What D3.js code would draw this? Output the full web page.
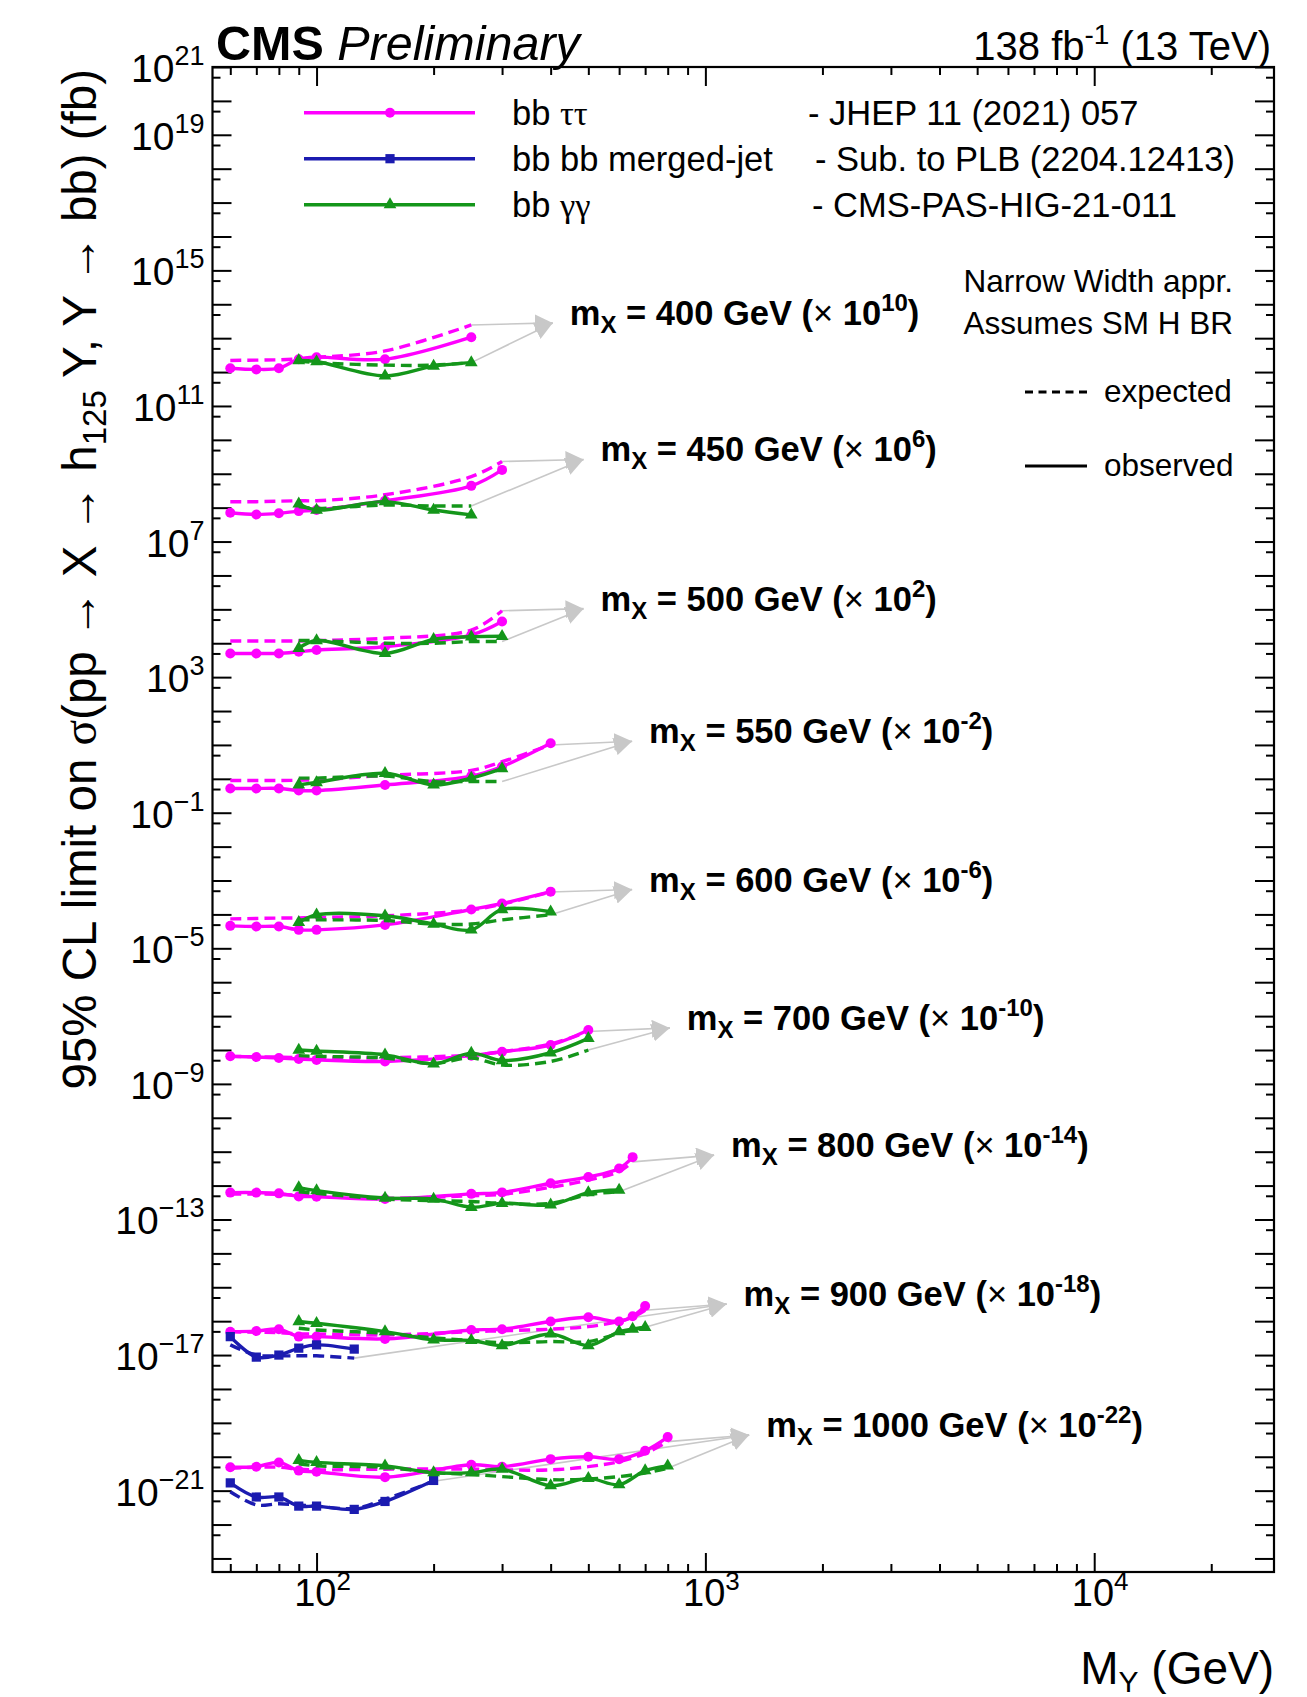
<!DOCTYPE html>
<html>
<head>
<meta charset="utf-8">
<script src="https://cdn.jsdelivr.net/npm/d3@7"></script>
<style>
  body { margin: 0; background: #ffffff; }
  svg { display: block; }
  text { font-family: "Liberation Sans", Arial, Helvetica, sans-serif; }
</style>
</head>
<body>
<svg id="chart" width="1307" height="1697"></svg>
<script>
// ---------------- DATA ----------------
// Resonance masses m_X and the factor 10^k applied to each group of curves
const masses = [400, 450, 500, 550, 600, 700, 800, 900, 1000];
const massExponents = [10, 6, 2, -2, -6, -10, -14, -18, -22];

// bb tautau (JHEP 11 (2021) 057): M_Y points, observed and expected limits (fb, unscaled)
const ttMY = [
  [60, 70, 80, 90, 100, 150, 250],
  [60, 70, 80, 90, 100, 150, 250, 300],
  [60, 70, 80, 90, 100, 150, 250, 300],
  [60, 70, 80, 90, 100, 150, 250, 300, 400],
  [60, 70, 80, 90, 100, 150, 250, 300, 400],
  [60, 70, 80, 90, 100, 150, 250, 300, 400, 500],
  [60, 70, 80, 90, 100, 150, 250, 300, 400, 500, 600, 650],
  [60, 70, 80, 90, 100, 150, 250, 300, 400, 500, 600, 650, 700],
  [60, 70, 80, 90, 100, 150, 250, 300, 400, 500, 600, 700, 800]
];
const ttObs = [
  [130, 120, 130, 240, 275, 240, 1070],
  [71, 63, 68, 79, 85, 160, 440, 1300],
  [50, 50, 50, 56, 63, 79, 176, 440],
  [52, 52, 52, 45, 45, 66, 120, 230, 1120],
  [46, 44, 44, 35, 35, 49, 140, 210, 470],
  [65, 62, 58, 54, 51, 46, 68, 89, 140, 390],
  [62, 62, 59, 48, 47, 40, 57, 63, 117, 180, 320, 690],
  [49, 51, 58, 35, 35, 30, 55, 58, 98, 130, 98, 140, 280],
  [49, 51, 68, 39, 36, 25, 58, 51, 85, 100, 85, 150, 380]
];
const ttExp = [
  [220, 225, 230, 245, 270, 420, 2450],
  [150, 150, 155, 160, 160, 240, 820, 2300],
  [117, 117, 117, 117, 120, 140, 245, 910],
  [89, 89, 89, 91, 93, 126, 178, 320, 1000],
  [74, 76, 78, 79, 81, 91, 135, 200, 460],
  [65, 63, 62, 60, 59, 59, 71, 89, 150, 350],
  [56, 56, 55, 52, 50, 42, 50, 55, 89, 145, 260, 500],
  [49, 47, 46, 42, 42, 39, 49, 52, 58, 69, 98, 130, 210],
  [46, 49, 49, 43, 41, 43, 43, 41, 41, 51, 72, 126, 280]
];

// bb bb merged-jet (2204.12413)
const bbMY = [[], [], [], [], [], [], [],
  [60, 70, 80, 90, 100, 125],
  [60, 70, 80, 90, 100, 125, 150, 200]
];
const bbObs = [[], [], [], [], [], [], [],
  [35, 8.7, 10, 16, 20, 15],
  [17, 6.5, 6.5, 3.5, 3.5, 2.8, 4.8, 20]
];
const bbExp = [[], [], [], [], [], [], [],
  [20, 10, 9.5, 9.5, 9.5, 8.1],
  [9.3, 3.8, 4.1, 3.8, 3.5, 3.0, 5.6, 19]
];

// bb gammagamma (CMS-PAS-HIG-21-011)
const ggMY = [
  [90, 100, 150, 200, 250],
  [90, 100, 150, 200, 250],
  [90, 100, 150, 200, 250, 300],
  [90, 100, 150, 200, 250, 300],
  [90, 100, 150, 200, 250, 300, 400],
  [90, 100, 150, 200, 250, 300, 400, 500],
  [90, 100, 150, 200, 250, 300, 400, 500, 600],
  [90, 100, 150, 200, 250, 300, 400, 500, 600, 650, 700],
  [90, 100, 150, 200, 250, 300, 400, 500, 600, 700, 800]
];
const ggObs = [
  [220, 205, 77, 150, 190],
  [130, 85, 150, 85, 61],
  [71, 120, 50, 130, 155, 160],
  [66, 78, 146, 66, 105, 200],
  [58, 97, 91, 52, 35, 140, 120],
  [100, 93, 72, 39, 81, 49, 83, 220],
  [87, 71, 43, 40, 23, 30, 27, 62, 74],
  [98, 87, 49, 28, 27, 19, 42, 19, 49, 58, 66],
  [78, 68, 54, 34, 34, 43, 14, 23, 15, 39, 54]
];
const ggExp = [
  [215, 190, 160, 160, 190],
  [107, 95, 120, 112, 112],
  [120, 120, 100, 100, 112, 112],
  [105, 105, 120, 83, 83, 83],
  [69, 69, 66, 52, 52, 69, 97],
  [68, 65, 58, 40, 58, 36, 46, 100],
  [66, 59, 40, 36, 34, 30, 30, 54, 66],
  [62, 55, 44, 32, 27, 23, 25, 25, 44, 55, 66],
  [62, 54, 49, 34, 30, 26, 21, 22, 26, 33, 46]
];

// Axis tick labels (exponents of 10)
const yLabelExponents = [21, 19, 15, 11, 7, 3, -1, -5, -9, -13, -17, -21];
const xLabelExponents = [2, 3, 4];
const xMinorTicks = [60, 70, 80, 90, 200, 300, 400, 500, 600, 700, 800, 900,
                     2000, 3000, 4000, 5000, 6000, 7000, 8000, 9000, 20000];

// Legend texts
const legendNames = [["bb ", "ττ"], ["bb bb merged-jet", ""], ["bb ", "γγ"]];
const legendRefs = ["- JHEP 11 (2021) 057", "- Sub. to PLB (2204.12413)", "- CMS-PAS-HIG-21-011"];

// ---------------- LAYOUT ----------------
const W = 1307, H = 1697;
const F = { left: 212.5, right: 1274, top: 67, bottom: 1572 };
const C = { tt: "#ff00ff", bb: "#1b1bb0", gg: "#14961a", arrow: "#c8c8c8" };
const SERIF = "'Liberation Serif', 'DejaVu Serif', serif";

const svg = d3.select("#chart");
svg.append("rect").attr("width", W).attr("height", H).attr("fill", "#fff");

const x = d3.scaleLog().domain([54, 29000]).range([F.left, F.right]);
const y = d3.scaleLog().domain([Math.pow(10, -23.4), 1e21]).range([F.bottom, F.top]);

svg.append("defs").append("clipPath").attr("id", "clip")
  .append("rect").attr("x", F.left).attr("y", F.top)
  .attr("width", F.right - F.left).attr("height", F.bottom - F.top);

svg.select("defs").append("marker")
  .attr("id", "ahead").attr("viewBox", "0 0 18 18")
  .attr("refX", 18).attr("refY", 9)
  .attr("markerWidth", 18).attr("markerHeight", 18)
  .attr("markerUnits", "userSpaceOnUse")
  .attr("orient", "auto")
  .append("path").attr("d", "M0,0 L18,9 L0,18 Z").attr("fill", C.arrow);

// ---------------- AXES (ticks via d3 axes) ----------------
const yDecades = d3.range(-23, 22).map(k => Math.pow(10, k));
const yMinor = d3.range(-22, 22).map(k => 5 * Math.pow(10, k - 1));
const xMajor = xLabelExponents.map(k => Math.pow(10, k));

function tickAxis(axisFn, scale, values, size, transform) {
  const g = svg.append("g").attr("transform", transform)
    .call(axisFn(scale).tickValues(values).tickSize(size).tickFormat(""));
  g.select(".domain").remove();
  g.selectAll(".tick line").attr("stroke", "#000").attr("stroke-width", 2);
  return g;
}
tickAxis(d3.axisLeft, y, yDecades, -19, `translate(${F.left},0)`);
tickAxis(d3.axisLeft, y, yMinor, -8, `translate(${F.left},0)`);
tickAxis(d3.axisRight, y, yDecades, -19, `translate(${F.right},0)`);
tickAxis(d3.axisRight, y, yMinor, -8, `translate(${F.right},0)`);
tickAxis(d3.axisBottom, x, xMajor, -19, `translate(0,${F.bottom})`);
tickAxis(d3.axisBottom, x, xMinorTicks, -8, `translate(0,${F.bottom})`);
tickAxis(d3.axisTop, x, xMajor, -19, `translate(0,${F.top})`);
tickAxis(d3.axisTop, x, xMinorTicks, -8, `translate(0,${F.top})`);

// y tick labels 10^k
yLabelExponents.forEach(k => {
  const t = svg.append("text").attr("x", F.left - 8).attr("y", y(Math.pow(10, k)) + 15)
    .attr("text-anchor", "end").attr("font-size", 39);
  t.append("tspan").text("10");
  t.append("tspan").attr("font-size", 27).attr("dy", -17).text(k < 0 ? "\u2212" + (-k) : String(k));
});
// x tick labels
xLabelExponents.forEach(k => {
  const t = svg.append("text").attr("x", x(Math.pow(10, k)) + 6).attr("y", 1606)
    .attr("text-anchor", "middle").attr("font-size", 38);
  t.append("tspan").text("10");
  t.append("tspan").attr("font-size", 26).attr("dy", -16).text(String(k));
});

// frame
svg.append("rect").attr("x", F.left).attr("y", F.top)
  .attr("width", F.right - F.left).attr("height", F.bottom - F.top)
  .attr("fill", "none").attr("stroke", "#000").attr("stroke-width", 2.2);

// axis titles
{
  const t = svg.append("text").attr("text-anchor", "end").attr("font-size", 47.5)
    .attr("transform", "translate(96,69) rotate(-90)");
  t.append("tspan").text("95% CL limit on ");
  t.append("tspan").attr("font-family", SERIF).text("σ");
  t.append("tspan").text("(pp → X → h");
  t.append("tspan").attr("font-size", 33).attr("dy", 10).text("125");
  t.append("tspan").attr("dy", -10).text(" Y, Y → bb) (fb)");
}
{
  const t = svg.append("text").attr("x", F.right).attr("y", 1684)
    .attr("text-anchor", "end").attr("font-size", 46);
  t.append("tspan").text("M");
  t.append("tspan").attr("font-size", 30).attr("dy", 8).text("Y");
  t.append("tspan").attr("dy", -8).text(" (GeV)");
}

// header
{
  const t = svg.append("text").attr("x", 216).attr("y", 60).attr("font-size", 48.5);
  t.append("tspan").attr("font-weight", "bold").text("CMS");
  t.append("tspan").attr("font-style", "italic").text(" Preliminary");
  const r = svg.append("text").attr("x", 1271).attr("y", 60)
    .attr("text-anchor", "end").attr("font-size", 40);
  r.append("tspan").text("138 fb");
  r.append("tspan").attr("font-size", 28).attr("dy", -16).text("-1");
  r.append("tspan").attr("dy", 16).text(" (13 TeV)");
}

// ---------------- CURVES ----------------
const plot = svg.append("g").attr("clip-path", "url(#clip)");
const arrowsG = plot.append("g");
const linesG = plot.append("g");
const line = d3.line().curve(d3.curveCatmullRom.alpha(0.5));

const triangle = d3.symbol().type(d3.symbolTriangle).size(70);
const square = d3.symbol().type(d3.symbolSquare).size(85);

function drawMarker(g, kind, px, py, color) {
  if (kind === "circle") {
    g.append("circle").attr("cx", px).attr("cy", py).attr("r", 5).attr("fill", color);
  } else {
    g.append("path").attr("d", kind === "tri" ? triangle() : square())
      .attr("transform", `translate(${px},${py})`).attr("fill", color);
  }
}

function drawSeries(mY, obs, exp, factor, color, kind) {
  if (!mY.length) return null;
  const pObs = mY.map((m, i) => [x(m), y(obs[i] * factor)]);
  const pExp = mY.map((m, i) => [x(m), y(exp[i] * factor)]);
  linesG.append("path").attr("d", line(pExp)).attr("fill", "none")
    .attr("stroke", color).attr("stroke-width", 3.4).attr("stroke-dasharray", "11,6");
  linesG.append("path").attr("d", line(pObs)).attr("fill", "none")
    .attr("stroke", color).attr("stroke-width", 3.4);
  pObs.forEach(p => drawMarker(linesG, kind, p[0], p[1], color));
  return pExp[pExp.length - 1];
}

masses.forEach((m, i) => {
  const factor = Math.pow(10, massExponents[i]);
  const ends = [];
  ends.push(drawSeries(ttMY[i], ttObs[i], ttExp[i], factor, C.tt, "circle"));
  ends.push(drawSeries(bbMY[i], bbObs[i], bbExp[i], factor, C.bb, "square"));
  ends.push(drawSeries(ggMY[i], ggObs[i], ggExp[i], factor, C.gg, "tri"));

  // arrow tip: to the right of the last bb-tautau point
  const n = ttMY[i].length;
  const tipX = x(ttMY[i][n - 1] * 1.62);
  const tipY = y(Math.max(ttObs[i][n - 1], ttExp[i][n - 1]) * factor * 1.15);
  ends.filter(e => e).forEach(e => {
    arrowsG.append("line").attr("x1", e[0]).attr("y1", e[1]).attr("x2", tipX).attr("y2", tipY)
      .attr("stroke", C.arrow).attr("stroke-width", 1.6).attr("marker-end", "url(#ahead)");
  });

  const t = svg.append("text").attr("x", tipX + 17).attr("y", tipY + 2)
    .attr("font-size", 34.5).attr("font-weight", "bold");
  t.append("tspan").text("m");
  t.append("tspan").attr("font-size", 24).attr("dy", 8).text("X");
  t.append("tspan").attr("dy", -8).text(` = ${m} GeV (`);
  t.append("tspan").attr("font-weight", "normal").text("×");
  t.append("tspan").text(" 10");
  t.append("tspan").attr("font-size", 24).attr("dy", -14).text(String(massExponents[i]));
  t.append("tspan").attr("dy", 14).text(")");
});

// ---------------- LEGENDS ----------------
const legColors = [C.tt, C.bb, C.gg];
const legKinds = ["circle", "square", "tri"];
const legRows = [112.7, 158.7, 204.7];
const legRefX = [808, 815, 812];
legRows.forEach((ry, i) => {
  svg.append("line").attr("x1", 304).attr("x2", 475).attr("y1", ry).attr("y2", ry)
    .attr("stroke", legColors[i]).attr("stroke-width", 3.4);
  drawMarker(svg, legKinds[i], 390, ry, legColors[i]);
  const t = svg.append("text").attr("x", 512).attr("y", ry + 12).attr("font-size", 34.5);
  t.append("tspan").text(legendNames[i][0]);
  if (legendNames[i][1]) t.append("tspan").attr("font-family", SERIF).text(legendNames[i][1]);
  svg.append("text").attr("x", legRefX[i]).attr("y", ry + 12).attr("font-size", 34.5).text(legendRefs[i]);
});

svg.append("text").attr("x", 1233).attr("y", 292).attr("text-anchor", "end")
  .attr("font-size", 31.5).text("Narrow Width appr.");
svg.append("text").attr("x", 1233).attr("y", 334).attr("text-anchor", "end")
  .attr("font-size", 31.5).text("Assumes SM H BR");
svg.append("line").attr("x1", 1025).attr("x2", 1087).attr("y1", 392).attr("y2", 392)
  .attr("stroke", "#000").attr("stroke-width", 3).attr("stroke-dasharray", "8,5.5");
svg.append("text").attr("x", 1104).attr("y", 402).attr("font-size", 31.5).text("expected");
svg.append("line").attr("x1", 1025).attr("x2", 1087).attr("y1", 466).attr("y2", 466)
  .attr("stroke", "#000").attr("stroke-width", 3);
svg.append("text").attr("x", 1104).attr("y", 476).attr("font-size", 31.5).text("observed");
</script>
</body>
</html>
